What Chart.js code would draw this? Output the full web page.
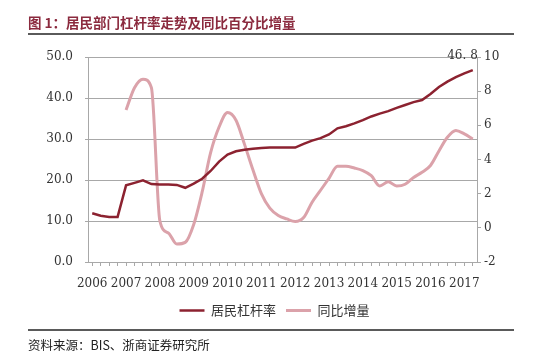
<!DOCTYPE html>
<html>
<head>
<meta charset="utf-8">
<script src="https://cdn.jsdelivr.net/npm/chart.js@4.4.1/dist/chart.umd.min.js"></script>
<style>
  html, body { margin: 0; padding: 0; background: #fff; }
  #wrap { width: 550px; height: 363px; position: relative; }
</style>
</head>
<body>
<div id="wrap"><canvas id="chart" width="550" height="363"></canvas></div>
<script>
// 季度数据 2006Q1 - 2017Q2
const years = ['2006', '2007', '2008', '2009', '2010', '2011', '2012', '2013', '2014', '2015', '2016', '2017'];
const quarters = [];
years.forEach(y => ['Q1', 'Q2', 'Q3', 'Q4'].forEach(q => quarters.push(y + q)));
quarters.length = 46;

// 居民杠杆率 (左轴, %)
const leverage = [11.9, 11.3, 11.0, 11.0, 18.7, 19.3, 19.9, 19.0, 18.9, 18.9, 18.8, 18.1,
  19.1, 20.3, 22.2, 24.5, 26.2, 27.0, 27.4, 27.6, 27.8, 27.9, 27.9, 27.9,
  27.9, 28.8, 29.6, 30.2, 31.1, 32.6, 33.1, 33.8, 34.6, 35.5, 36.2, 36.8,
  37.6, 38.3, 39.0, 39.5, 41.0, 42.7, 44.0, 45.1, 46.0, 46.8];

// 同比增量 (右轴)
const yoyChange = [null, null, null, null, 6.9, 8.2, 8.7, 8.2, 0.4, -0.3, -0.95, -0.85,
  0.2, 2.1, 4.4, 5.9, 6.75, 6.3, 4.9, 3.4, 2.0, 1.15, 0.72, 0.52,
  0.37, 0.6, 1.5, 2.2, 2.9, 3.6, 3.6, 3.5, 3.35, 3.05, 2.45, 2.7,
  2.45, 2.55, 2.95, 3.25, 3.65, 4.5, 5.3, 5.7, 5.5, 5.2];

const titleText = '图 1：居民部门杠杆率走势及同比百分比增量';
const sourceText = '资料来源：BIS、浙商证券研究所';

const darkRed = '#8c2230';
const pink = '#dba2aa';
const gridGray = '#a8a8a8';
const tickFont = { family: 'DejaVu Serif', size: 12 };

// 标题、来源、末值标注
const decor = {
  id: 'decor',
  afterDraw(chart) {
    const c = chart.ctx;
    c.save();
    c.fillStyle = '#8b2a3e';
    c.font = 'bold 13.5px "Noto Sans CJK SC"';
    c.textBaseline = 'middle';
    c.textAlign = 'left';
    c.fillText(titleText, 28, 23);

    c.strokeStyle = '#5a5a5a';
    c.lineWidth = 2;
    c.beginPath(); c.moveTo(28, 34); c.lineTo(514, 34); c.stroke();
    c.beginPath(); c.moveTo(28, 330); c.lineTo(514, 330); c.stroke();

    c.fillStyle = '#222';
    c.font = '12.5px "Noto Sans CJK SC"';
    c.fillText(sourceText, 28, 345);

    const meta = chart.getDatasetMeta(0);
    const last = meta.data[meta.data.length - 1];
    c.fillStyle = '#333';
    c.font = '12px "DejaVu Serif"';
    c.textAlign = 'right';
    c.fillText(leverage[leverage.length - 1].toFixed(1).replace('.', '. '), last.x + 5, last.y - 14);
    c.restore();
  }
};

new Chart(document.getElementById('chart'), {
  type: 'line',
  data: {
    labels: quarters,
    datasets: [
      { label: '居民杠杆率', data: leverage, yAxisID: 'y', borderColor: darkRed, backgroundColor: darkRed,
        borderWidth: 2.5, pointRadius: 0, tension: 0 },
      { label: '同比增量', data: yoyChange, yAxisID: 'y1', borderColor: pink, backgroundColor: pink,
        borderWidth: 3, pointRadius: 0, cubicInterpolationMode: 'monotone' }
    ]
  },
  options: {
    responsive: false,
    animation: false,
    layout: { padding: { left: 16, right: 17, top: 57, bottom: 36 } },
    plugins: {
      legend: {
        position: 'bottom',
        labels: {
          usePointStyle: true, pointStyle: 'line', pointStyleWidth: 25,
          color: '#333', font: { family: 'Noto Sans CJK SC', size: 13 }, padding: 10
        }
      },
      tooltip: { enabled: false }
    },
    scales: {
      x: {
        offset: true,
        grid: { drawOnChartArea: false, tickLength: 4, color: gridGray },
        border: { color: gridGray },
        ticks: {
          autoSkip: false, maxRotation: 0, padding: 11, color: '#333', font: tickFont,
          callback: (v, i) => quarters[i].endsWith('Q1') ? quarters[i].slice(0, 4) : ''
        },
        afterFit: s => { s.height = 32; }
      },
      y: {
        position: 'left', min: 0, max: 50,
        grid: { color: gridGray, tickLength: 3 },
        border: { color: gridGray },
        ticks: { stepSize: 10, padding: 12, color: '#333', font: tickFont, callback: v => v.toFixed(1) },
        afterFit: s => { s.width = 72; }
      },
      y1: {
        position: 'right', min: -2, max: 10,
        grid: { drawOnChartArea: false, tickLength: 4, color: gridGray },
        border: { color: gridGray },
        ticks: { stepSize: 2, padding: 3, color: '#333', font: tickFont },
        afterFit: s => { s.width = 56; }
      }
    }
  },
  plugins: [decor]
});
</script>
</body>
</html>
